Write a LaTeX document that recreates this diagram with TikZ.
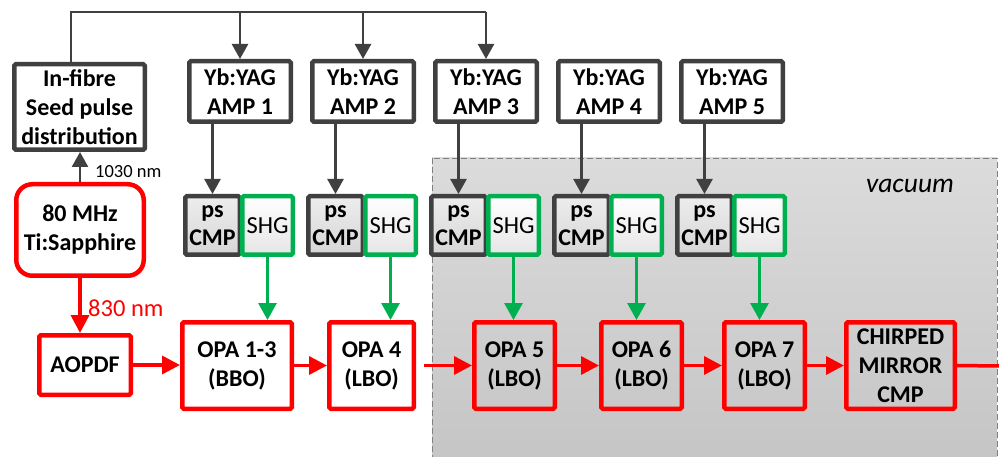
\documentclass[tikz,border=0pt]{standalone}
\usepackage{fontspec}
\setmainfont{Carlito}
\usetikzlibrary{arrows.meta,shadows}
\definecolor{dgray}{HTML}{404040}
\definecolor{myred}{HTML}{FF0000}
\definecolor{mygreen}{HTML}{00B050}
\begin{document}
\begin{tikzpicture}[x=1pt,y=-1pt,
  boxtext/.style={font=\fontsize{24}{29}\selectfont\bfseries, align=center, inner sep=0pt},
  shad/.style={drop shadow={opacity=0.18, shadow xshift=2pt, shadow yshift=-2pt}},
  graybox/.style={boxtext, draw=dgray, line width=4.5pt, fill=white, rounded corners=1.5pt, shad},
  cmpbox/.style={boxtext, draw=dgray, line width=4.5pt, top color=white!93!black, bottom color=white!84!black, rounded corners=1.5pt, shad, minimum width=54.5pt, minimum height=58.5pt},
  shgbox/.style={font=\fontsize{24.5}{29}\selectfont, inner sep=0pt, draw=mygreen, line width=4.5pt, top color=white, bottom color=white!90!black, rounded corners=1.5pt, minimum width=50.5pt, minimum height=58.5pt},
  redbox/.style={boxtext, draw=myred, line width=4.5pt, rounded corners=1.5pt},
  redwhite/.style={redbox, fill=white, shad},
  darkarrow/.style={draw=dgray, line width=2.5pt, -{Triangle[width=16pt,length=15pt]}},
  darkline/.style={draw=dgray, line width=2.5pt},
  redarrow/.style={draw=myred, line width=3.5pt, -{Triangle[width=18pt,length=18pt]}},
  greenarrow/.style={draw=mygreen, line width=3pt, -{Triangle[width=18pt,length=17pt]}}
]
\useasboundingbox (0,0) rectangle (999,457);
% vacuum region
\path[top color=white!86!black, bottom color=white!77!black, draw=gray, dash pattern=on 6pt off 3pt, line width=0.8pt] (432,158) rectangle (997,470);
\node[font=\fontsize{27.5}{30}\selectfont\itshape, inner sep=0pt] (vac) at (910,186) {vacuum};

% source boxes
\node[graybox, minimum width=130.5pt, minimum height=85.5pt] (infibre) at (79.5,107) {In-fibre\\Seed pulse\\distribution};
\node[redwhite, rounded corners=16pt, line width=4.5pt, minimum width=127.5pt, minimum height=91.5pt] (ti) at (80,230) {80 MHz\\Ti:Sapphire};
\node[redwhite, minimum width=91.5pt, minimum height=59.5pt] (aopdf) at (85,365) {AOPDF};

% amplifiers
\foreach \i in {1,...,5}{
  \node[graybox, minimum width=101.5pt, minimum height=60.5pt] (amp\i) at ({240+123*(\i-1)},91.5) {Yb:YAG\\AMP \i};
  \node[cmpbox] (cmp\i) at ({212.5+123*(\i-1)},225.5) {ps\\[-1pt]CMP};
  \node[shgbox] (shg\i) at ({267.5+123*(\i-1)},225.5) {SHG};
}

% OPA chain
\node[redwhite, minimum width=109.5pt, minimum height=86.5pt] (opa13) at (237,365.5) {OPA 1-3\\(BBO)};
\node[redwhite, minimum width=84.5pt, minimum height=86.5pt] (opa4) at (371.5,365.5) {OPA 4\\(LBO)};
\node[redbox, minimum width=80.5pt, minimum height=86.5pt] (opa5) at (514.5,365.5) {OPA 5\\(LBO)};
\node[redbox, minimum width=80.5pt, minimum height=86.5pt] (opa6) at (641.5,365.5) {OPA 6\\(LBO)};
\node[redbox, minimum width=80.5pt, minimum height=86.5pt] (opa7) at (764.5,365.5) {OPA 7\\(LBO)};
\node[redbox, minimum width=108.5pt, minimum height=86.5pt] (chirp) at (900.5,365.5) {CHIRPED\\MIRROR\\CMP};
\coordinate (out) at (999,366);

% distribution bus
\coordinate (bus) at (0,12);
\coordinate (tap) at (71,0);
\draw[darkline] (tap |- infibre.north) -- (tap |- bus) -- (amp3.north |- bus);
\foreach \i in {1,2,3}{
  \draw[darkarrow] (amp\i.north |- bus) -- (amp\i.north);
}
\foreach \i in {1,...,5}{
  \draw[darkarrow] (cmp\i.north |- amp\i.south) -- (cmp\i.north);
}

% seed and pump beams
\draw[darkarrow] (ti.north) -- (ti.north |- infibre.south);
\node[font=\fontsize{18.5}{20}\selectfont, inner sep=0pt, anchor=west] (l1030) at (95,172) {1030 nm};
\draw[redarrow] (ti.south) -- (ti.south |- aopdf.north);
\node[font=\fontsize{24.5}{26}\selectfont, text=myred, inner sep=0pt, anchor=west] (l830) at (88,308) {830 nm};

% green SHG beams
\draw[greenarrow] (shg1.south) -- (shg1.south |- opa13.north);
\draw[greenarrow] (shg2.south) -- (shg2.south |- opa4.north);
\draw[greenarrow] (shg3.south) -- (shg3.south |- opa5.north);
\draw[greenarrow] (shg4.south) -- (shg4.south |- opa6.north);
\draw[greenarrow] (shg5.south) -- (shg5.south |- opa7.north);

% red signal chain
\draw[redarrow] (aopdf.east) -- (aopdf.east -| opa13.west);
\draw[redarrow] (opa13.east) -- (opa4.west);
\draw[redarrow, shorten <=8pt] (opa4.east) -- (opa5.west);
\draw[redarrow] (opa5.east) -- (opa6.west);
\draw[redarrow] (opa6.east) -- (opa7.west);
\draw[redarrow] (opa7.east) -- (chirp.west);
\draw[draw=myred, line width=3.5pt] (chirp.east) -- (out);
\end{tikzpicture}
\end{document}
